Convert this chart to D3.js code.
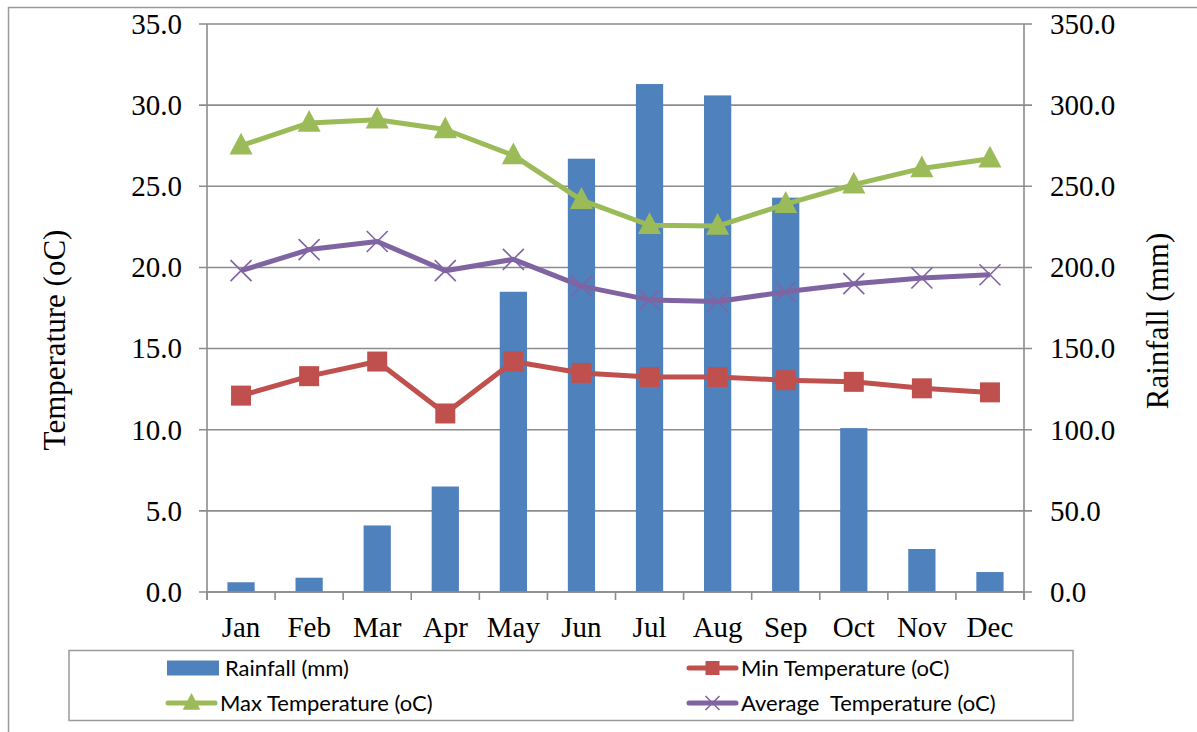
<!DOCTYPE html>
<html><head><meta charset="utf-8">
<script src="https://cdn.jsdelivr.net/npm/d3@7"></script>
<style>body{margin:0;background:#fff}svg{display:block}</style>
</head><body>
<svg id="c" width="1197" height="732"></svg>
<script>
const months = ["Jan","Feb","Mar","Apr","May","Jun","Jul","Aug","Sep","Oct","Nov","Dec"];
const rainfall = [6.0, 8.8, 41, 65, 185, 267, 313, 306, 243, 101, 26.5, 12.3];
const minTemp = [12.1, 13.3, 14.2, 11.0, 14.2, 13.5, 13.25, 13.25, 13.05, 12.95, 12.55, 12.3];
const maxTemp = [27.5, 28.9, 29.1, 28.5, 26.9, 24.15, 22.6, 22.55, 23.9, 25.1, 26.1, 26.7];
const avgTemp = [19.8, 21.1, 21.6, 19.8, 20.5, 18.85, 18.0, 17.9, 18.5, 19.0, 19.35, 19.55];
const tempTicks = [0,5,10,15,20,25,30,35];
const rainTicks = [0,50,100,150,200,250,300,350];

const svg = d3.select("#c");
const L=207, R=1024, T=24, B=592;
const serif = "'Liberation Serif','Times New Roman',serif";
const sans = "Lato,'Liberation Sans',sans-serif";
const grid = "#8c8c8c";

// outer border
svg.append("path").attr("d","M8.5,740 V7.5 H1200").attr("fill","none").attr("stroke","#9a9a9a").attr("stroke-width",1.5);

const xc = d3.scalePoint().domain(months).range([L,R]).padding(0.5);
const yT = d3.scaleLinear().domain([0,35]).range([B,T]);
const yR = d3.scaleLinear().domain([0,350]).range([B,T]);

// gridlines
svg.append("g").selectAll("line").data(tempTicks).join("line")
  .attr("x1",L-8).attr("x2",R+8).attr("y1",d=>yT(d)).attr("y2",d=>yT(d))
  .attr("stroke",grid).attr("stroke-width",1.6);

// bars
const bw = (R-L)/12/2.5;
svg.append("g").selectAll("rect").data(rainfall).join("rect")
  .attr("x",(d,i)=>xc(months[i])-bw/2).attr("width",bw)
  .attr("y",d=>yR(d)).attr("height",d=>B-yR(d))
  .attr("fill","#4f81bd");

// axes lines
svg.append("line").attr("x1",L).attr("x2",L).attr("y1",T).attr("y2",B+8).attr("stroke",grid).attr("stroke-width",1.6);
svg.append("line").attr("x1",R).attr("x2",R).attr("y1",T).attr("y2",B+8).attr("stroke",grid).attr("stroke-width",1.6);
svg.append("line").attr("x1",L).attr("x2",R).attr("y1",B).attr("y2",B).attr("stroke",grid).attr("stroke-width",1.6);
const step=(R-L)/12;
svg.append("g").selectAll("line").data(d3.range(13)).join("line")
  .attr("x1",d=>L+d*step).attr("x2",d=>L+d*step).attr("y1",B).attr("y2",B+8)
  .attr("stroke",grid).attr("stroke-width",1.6);

// tick labels
svg.append("g").selectAll("text").data(tempTicks).join("text")
  .attr("x",182).attr("y",d=>yT(d)).attr("dy","0.34em").attr("text-anchor","end")
  .attr("font-family",serif).attr("font-size",29).text(d=>d3.format(".1f")(d));
svg.append("g").selectAll("text").data(rainTicks).join("text")
  .attr("x",1050).attr("y",d=>yR(d)).attr("dy","0.34em").attr("text-anchor","start")
  .attr("font-family",serif).attr("font-size",29).text(d=>d3.format(".1f")(d));
svg.append("g").selectAll("text").data(months).join("text")
  .attr("x",d=>xc(d)).attr("y",637).attr("text-anchor","middle")
  .attr("font-family",serif).attr("font-size",29).text(d=>d);

// axis titles
svg.append("text").attr("transform","translate(65,340) rotate(-90)").attr("text-anchor","middle")
  .attr("font-family",serif).attr("font-size",31).text("Temperature (oC)");
svg.append("text").attr("transform","translate(1168,321) rotate(-90)").attr("text-anchor","middle")
  .attr("font-family",serif).attr("font-size",31).text("Rainfall (mm)");

// markers
function tri(g,cx,cy,s,c){g.append("path").attr("d",`M${cx},${cy-s*0.62}L${cx+s*0.55},${cy+s*0.42}L${cx-s*0.55},${cy+s*0.42}Z`).attr("fill",c);}
function sq(g,cx,cy,s,c){g.append("rect").attr("x",cx-s/2).attr("y",cy-s/2).attr("width",s).attr("height",s).attr("fill",c);}
function cross(g,cx,cy,s,c){g.append("path").attr("d",`M${cx-s/2},${cy-s/2}L${cx+s/2},${cy+s/2}M${cx+s/2},${cy-s/2}L${cx-s/2},${cy+s/2}`).attr("stroke",c).attr("stroke-width",1.6).attr("fill","none");}

const series = [
  {data:minTemp,color:"#c0504d",mk:sq,size:20},
  {data:avgTemp,color:"#8064a2",mk:cross,size:21},
  {data:maxTemp,color:"#9bbb59",mk:tri,size:21},
];
series.forEach(s=>{
  const line = d3.line().x((d,i)=>xc(months[i])).y(d=>yT(d)).curve(d3.curveLinear);
  svg.append("path").attr("d",line(s.data)).attr("fill","none").attr("stroke",s.color).attr("stroke-width",5).attr("stroke-linejoin","round");
  const g = svg.append("g");
  s.data.forEach((d,i)=>s.mk(g,xc(months[i]),yT(d),s.size,s.color));
});

// legend
const lg = svg.append("g");
lg.append("rect").attr("x",69).attr("y",650.5).attr("width",1004).attr("height",70).attr("fill","#fff").attr("stroke","#9a9a9a").attr("stroke-width",1.5);
const items = [
  {name:"Rainfall (mm)",type:"bar",color:"#4f81bd",x:167,y:668},
  {name:"Min Temperature (oC)",type:"line",mk:sq,size:14,color:"#c0504d",x:688,y:668},
  {name:"Max Temperature (oC)",type:"line",mk:tri,size:16,color:"#9bbb59",x:167,y:703},
  {name:"Average  Temperature (oC)",type:"line",mk:cross,size:14,color:"#8064a2",x:688,y:703},
];
items.forEach(it=>{
  let tx;
  if(it.type==="bar"){
    lg.append("rect").attr("x",it.x).attr("y",it.y-7.5).attr("width",52).attr("height",15).attr("fill",it.color);
    tx = it.x+58;
  } else {
    lg.append("line").attr("x1",it.x+1).attr("x2",it.x+48).attr("y1",it.y).attr("y2",it.y).attr("stroke",it.color).attr("stroke-width",5).attr("stroke-linecap","round");
    it.mk(lg,it.x+24.5,it.y,it.size,it.color);
    tx = it.x+53;
  }
  lg.append("text").attr("x",tx).attr("y",it.y).attr("dy","0.36em").attr("font-family",sans).attr("font-size",22).attr("fill","#000").style("white-space","pre").text(it.name);
});
</script>
</body></html>
